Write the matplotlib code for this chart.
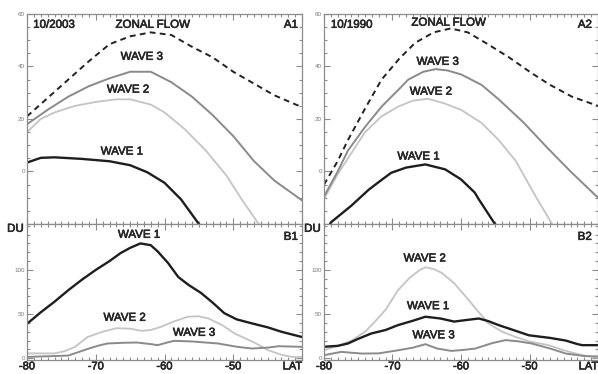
import matplotlib
matplotlib.use("Agg")
import matplotlib.pyplot as plt
import matplotlib.patheffects as pe
from matplotlib.ticker import MultipleLocator, FixedLocator, FixedFormatter

plt.rcParams['font.family'] = ['Liberation Sans', 'DejaVu Sans']

# ---------------- data ----------------
# Panel A1 (10/2003) -- top left
a1_zonal_lat = [-80, -77, -74, -71, -68, -65, -62, -59, -56, -53, -50, -47, -44, -40]
a1_zonal_val = [21, 28, 35, 42, 48.5, 51.5, 53, 52, 47.5, 43.5, 38, 33.5, 29, 24.5]
a1_w3_lat = [-80, -77, -74, -71, -68, -65, -62, -59, -56, -53, -50, -47, -44, -40]
a1_w3_val = [18, 23.5, 28.5, 32.5, 35.5, 38, 38, 34, 28.5, 21.5, 13.5, 4, -3.5, -11]
a1_w2_lat = [-80, -78, -76, -73, -70, -67, -65, -62, -60, -57, -54, -51, -48.8, -46.3, -45]
a1_w2_val = [15, 20, 22.5, 25, 26.5, 27.5, 27.5, 25.5, 22.5, 16, 8, -1.5, -10.5, -20, -25]
a1_w1_lat = [-80, -78, -76, -72, -68, -65, -62.5, -60, -57.6, -55, -54]
a1_w1_val = [3.4, 5.2, 5.4, 4.8, 3.9, 2.4, -0.3, -4.3, -10.6, -20, -24]

# Panel A2 (10/1990) -- top right
a2_zonal_lat = [-80, -78, -76.5, -74, -71.6, -69, -66.7, -64, -61.5, -59, -56.4, -53, -49.7, -47, -43.8, -40]
a2_zonal_val = [-5, 4, 12, 24, 35, 43, 49, 53, 54.5, 53, 49, 43.5, 37.5, 33, 28.5, 25]
a2_w3_lat = [-80, -78, -76.5, -74, -71.6, -69, -67.7, -65.5, -63.7, -62, -60, -57, -54.5, -51, -47.2, -44, -40]
a2_w3_val = [-9.5, 0, 8, 17, 24.7, 31.5, 35, 38, 39, 38.5, 37, 33, 27.5, 19, 8.5, 0, -10]
a2_w2_lat = [-80, -78, -76, -74, -71.6, -69.2, -67, -64.8, -62.5, -60, -57, -54.5, -52, -49.1, -46.7, -45.5]
a2_w2_val = [-10.5, -1, 7, 15, 21, 24.7, 27, 27.7, 26, 23.5, 18.5, 12, 4, -9.5, -20, -25]
a2_w1_lat = [-79.5, -79, -76, -73.5, -72, -70.2, -68, -65.2, -62.3, -60, -58, -57.4, -55.2, -54.5]
a2_w1_val = [-22, -19.4, -13, -7, -4, -0.5, 1.5, 2.7, 0.8, -3, -8, -10.6, -19.4, -22]

# Panel B1 (DU) -- bottom left
b1_w1_lat = [-80, -78, -76, -74, -72, -70, -68, -66.4, -65, -63.5, -62, -61, -59.5, -58, -56.5,
             -54.7, -53, -51.3, -49.5, -47.3, -45, -43, -40]
b1_w1_val = [39, 52, 64, 77, 89, 100, 110, 119, 125, 130, 128, 121, 108, 92, 83,
             74, 63, 51, 44, 39.5, 35, 30, 24]
b1_w2_lat = [-80, -76, -74.5, -73, -71.2, -69, -67, -65, -63.4, -62, -60.5, -58.5, -56.6, -55,
             -53.6, -51.5, -49.8, -47, -44.9, -43, -41.5, -40]
b1_w2_val = [5.5, 5.5, 8, 13, 24, 30, 34, 33.5, 31, 32, 35.6, 42, 47, 47.5,
             45, 37, 28, 18, 9, 4, 1.5, 1.5]
b1_w3_lat = [-80, -74, -72.5, -71, -69.5, -68.3, -66, -64, -62, -61, -59.5, -58.6, -56, -52.2,
             -49.5, -47.3, -45, -43.4, -40]
b1_w3_val = [1.5, 3, 7, 11, 14.5, 16.7, 17.5, 17.8, 16, 14.8, 18, 19.7, 19, 16.7,
             13, 11, 12, 13.6, 12.9]

# Panel B2 (DU) -- bottom right
b2_w2_lat = [-80, -78, -76, -74, -72.5, -71, -69.2, -67.5, -66, -65.2, -64, -62.8, -61, -59.3,
             -57.5, -56, -54, -52, -50, -47.2, -45, -42.3, -40]
b2_w2_val = [9, 14, 20, 30, 42, 55, 77, 91, 100, 103, 101, 96.6, 85, 69.7,
             53, 39.4, 30, 24, 19, 14.8, 9, 3.4, 0.5]
b2_w1_lat = [-80, -78, -76.5, -75, -73.1, -71, -69.2, -67, -65.2, -63, -61, -59.5, -57.4, -56,
             -54.5, -52, -50.1, -47, -44.7, -43, -42.3, -40]
b2_w1_val = [13, 14, 16.7, 22, 28, 32, 37.5, 42.5, 47, 45, 41.5, 43, 45, 42,
             37.5, 31, 26, 23, 20, 16, 14.8, 14.8]
b2_w3_lat = [-80, -77.5, -74.5, -72, -69.2, -67, -65.2, -63.5, -61.4, -59.5, -57.9, -55.5, -53.5,
             -51.5, -49.7, -47, -44.7, -42, -40]
b2_w3_val = [3.4, 7.2, 5.3, 5.5, 9, 12, 15.9, 11, 8.3, 9.5, 11, 17, 20.5,
             19, 16.7, 11, 5.3, 2.5, 2]

x_ticks = [-80, -70, -60, -50, -40]
x_labels = ['-80', '-70', '-60', '-50', 'LAT']
top_yticks = [0, 20, 40, 60]
bot_yticks = [0, 50, 100]

# ---------------- styling ----------------
C_W1 = '#1e1e1e'
C_W2 = '#c4c4c4'
C_W3 = '#8a8a8a'
C_ZF = '#222222'
SPINE = '#8c8c8c'
TXT = '#262626'
BOLDEN = [pe.withStroke(linewidth=0.45, foreground=TXT)]

W, H = 598, 374
fig = plt.figure(figsize=(W / 100, H / 100), dpi=100)


def fx(px):
    return px / W


def fy(py_top):
    return 1 - py_top / H


cols = [(27, 302), (324, 598)]
top_rng = (14, 224)
bot_rng = (224, 360)


def style(ax, top):
    for s in ax.spines.values():
        s.set_color(SPINE)
        s.set_linewidth(0.9)
    ax.set_xlim(-80, -40)
    ax.xaxis.set_major_locator(FixedLocator(x_ticks))
    ax.xaxis.set_minor_locator(MultipleLocator(1))
    ax.tick_params(which='both', direction='in', top=True, right=True,
                   color=SPINE, width=0.8)
    ax.tick_params(which='major', length=4)
    ax.tick_params(which='minor', length=2.2)
    ax.tick_params(axis='y', labelsize=4.5, labelcolor='#777777', pad=1.5)
    if top:
        ax.set_ylim(-20, 60)
        ax.yaxis.set_major_locator(FixedLocator(top_yticks))
        ax.yaxis.set_minor_locator(MultipleLocator(5))
        ax.tick_params(axis='x', labelbottom=False)
    else:
        ax.set_ylim(-2, 152)
        ax.yaxis.set_major_locator(FixedLocator(bot_yticks))
        ax.yaxis.set_minor_locator(MultipleLocator(10))
        ax.xaxis.set_major_formatter(FixedFormatter(x_labels))
        ax.tick_params(axis='x', labelsize=8, labelcolor=TXT, pad=1)
        labs = ax.get_xticklabels()
        for t in labs:
            t.set_path_effects(BOLDEN)
        labs[-1].set_horizontalalignment('right')


axes = {}
for ci, (x0, x1) in enumerate(cols):
    at = fig.add_axes([fx(x0), fy(top_rng[1]), fx(x1 - x0), (top_rng[1] - top_rng[0]) / H])
    ab = fig.add_axes([fx(x0), fy(bot_rng[1]), fx(x1 - x0), (bot_rng[1] - bot_rng[0]) / H])
    style(at, True)
    style(ab, False)
    axes[('t', ci)] = at
    axes[('b', ci)] = ab

lbl = dict(fontsize=8.3, color=TXT, ha='center', va='center', path_effects=BOLDEN)
corner = dict(fontsize=8.3, color=TXT, va='center', path_effects=BOLDEN)

# A1
ax = axes[('t', 0)]
ax.plot(a1_zonal_lat, a1_zonal_val, color=C_ZF, lw=1.4, ls=(0, (3, 2.2)))
ax.plot(a1_w2_lat, a1_w2_val, color=C_W2, lw=1.3)
ax.plot(a1_w3_lat, a1_w3_val, color=C_W3, lw=1.4)
ax.plot(a1_w1_lat, a1_w1_val, color=C_W1, lw=1.7)
ax.text(-61.7, 55.9, 'ZONAL FLOW', **lbl)
ax.text(-63.3, 43.7, 'WAVE 3', **lbl)
ax.text(-65.3, 31.2, 'WAVE 2', **lbl)
ax.text(-66.2, 7.6, 'WAVE 1', **lbl)
ax.text(-79.1, 55.9, '10/2003', ha='left', **corner)
ax.text(-40.6, 55.9, 'A1', ha='right', **corner)

# A2
ax = axes[('t', 1)]
ax.plot(a2_zonal_lat, a2_zonal_val, color=C_ZF, lw=1.4, ls=(0, (3, 2.2)))
ax.plot(a2_w2_lat, a2_w2_val, color=C_W2, lw=1.3)
ax.plot(a2_w3_lat, a2_w3_val, color=C_W3, lw=1.4)
ax.plot(a2_w1_lat, a2_w1_val, color=C_W1, lw=1.7)
ax.text(-61.8, 56.7, 'ZONAL FLOW', **lbl)
ax.text(-63.4, 41.8, 'WAVE 3', **lbl)
ax.text(-64.4, 30.4, 'WAVE 2', **lbl)
ax.text(-66.2, 5.7, 'WAVE 1', **lbl)
ax.text(-79.0, 55.9, '10/1990', ha='left', **corner)
ax.text(-40.9, 55.9, 'A2', ha='right', **corner)

# B1
ax = axes[('b', 0)]
ax.plot(b1_w2_lat, b1_w2_val, color=C_W2, lw=1.3)
ax.plot(b1_w3_lat, b1_w3_val, color=C_W3, lw=1.4)
ax.plot(b1_w1_lat, b1_w1_val, color=C_W1, lw=1.7)
ax.text(-63.7, 139.8, 'WAVE 1', **lbl)
ax.text(-65.8, 45.8, 'WAVE 2', **lbl)
ax.text(-55.7, 28.8, 'WAVE 3', **lbl)
ax.text(-40.6, 137.5, 'B1', ha='right', **corner)
ax.text(-0.012, 0.965, 'DU', transform=ax.transAxes, ha='right', **corner)

# B2
ax = axes[('b', 1)]
ax.plot(b2_w2_lat, b2_w2_val, color=C_W2, lw=1.3)
ax.plot(b2_w3_lat, b2_w3_val, color=C_W3, lw=1.4)
ax.plot(b2_w1_lat, b2_w1_val, color=C_W1, lw=1.7)
ax.text(-65.3, 113, 'WAVE 2', **lbl)
ax.text(-64.8, 59, 'WAVE 1', **lbl)
ax.text(-64.0, 26, 'WAVE 3', **lbl)
ax.text(-40.9, 137.5, 'B2', ha='right', **corner)
ax.text(-0.012, 0.965, 'DU', transform=ax.transAxes, ha='right', **corner)

fig.savefig('out.png', dpi=100, facecolor='white')
